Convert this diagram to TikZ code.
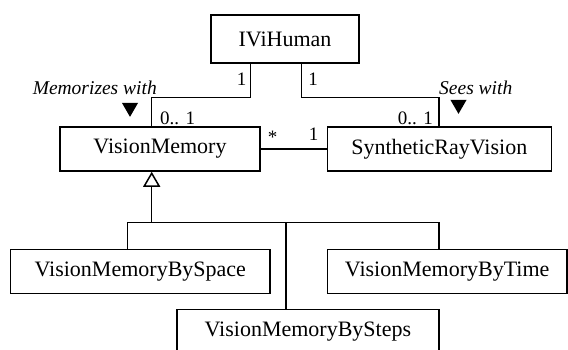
\documentclass[tikz,border=0pt]{standalone}
\usepackage{fontspec}
\setmainfont{Liberation Serif}
\usetikzlibrary{arrows.meta,shapes.geometric}
\tikzset{>=latex}

\begin{document}
\begin{tikzpicture}[x=1pt,y=-1pt,
		classbox/.style={draw, line width=1.5pt, inner sep=0pt, minimum height=44pt, font=\fontsize{22}{26}\selectfont},
		mult/.style={inner sep=0pt, font=\fontsize{19}{22}\selectfont},
		role/.style={inner sep=0pt, font=\fontsize{19.5}{22}\selectfont\itshape},
		navtip/.style={regular polygon, regular polygon sides=3, shape border rotate=180, fill=black, inner sep=0pt, minimum size=18.5pt},
		link/.style={line width=1.5pt}]
		\useasboundingbox (0,0) rectangle (568,349);
		% classes
		\node[classbox, minimum width=148pt, minimum height=48pt] (hum) at (285,39) {IViHuman};
		\node[classbox, minimum width=200pt] (vm) at (160,149) {VisionMemory};
		\node[classbox, minimum width=224pt] (srv) at (439.3,149) {SyntheticRayVision};
		\node[classbox, minimum width=259.3pt] (space) at (140.3,271.3) {VisionMemoryBySpace};
		\node[classbox, minimum width=239.5pt] (time) at (447.2,271.3) {VisionMemoryByTime};
		\node[classbox, minimum width=262.3pt] (steps) at (307.9,331.3) {VisionMemoryBySteps};
		% bends of the connectors
		\coordinate (hl) at (250.7,97.3);
		\coordinate (hr) at (301.7,97.3);
		\coordinate (vmx) at (151.7,0);
		\coordinate (srx) at (439,0);
		\coordinate (busL) at (127.7,222.3);
		\coordinate (busM) at (286,222.3);
		\coordinate (busR) at (439,222.3);
		\coordinate (gen) at (151.7,222.3);
		% associations
		\draw[link] (hum.south -| hl) -- (hl) -| (vm.north -| vmx);
		\draw[link] (hum.south -| hr) -- (hr) -| (srv.north -| srx);
		\draw[link] (vm.east) -- (srv.west);
		% generalization
		\draw[link, -{Triangle[open, width=17pt, length=15pt, line width=1.5pt]}] (gen) -- (vm.south -| gen);
		\draw[link] (space.north -| busL) -- (busL) -- (busR) -- (time.north -| busR);
		\draw[link] (busM) -- (steps.north -| busM);
		% labels
		\node[mult, anchor=base] (m1) at (241.7,85) {1};
		\node[mult, anchor=base] (m2) at (313,85) {1};
		\node[mult, anchor=base west] (m3) at (160,124) {0.. 1};
		\node[mult, anchor=base east] (m4) at (433,124) {0.. 1};
		\node[mult] (m5) at (272.7,137) {*};
		\node[mult, anchor=base] (m6) at (313.5,140) {1};
		\node[role, anchor=base east] (memo) at (157,94) {Memorizes with};
		\node[role, anchor=base west] (sees) at (439,94) {Sees with};
		\node[navtip] (memotip) at (130,107.6) {};
		\node[navtip] (seestip) at (458.5,104.6) {};
	\end{tikzpicture}
\end{document}
